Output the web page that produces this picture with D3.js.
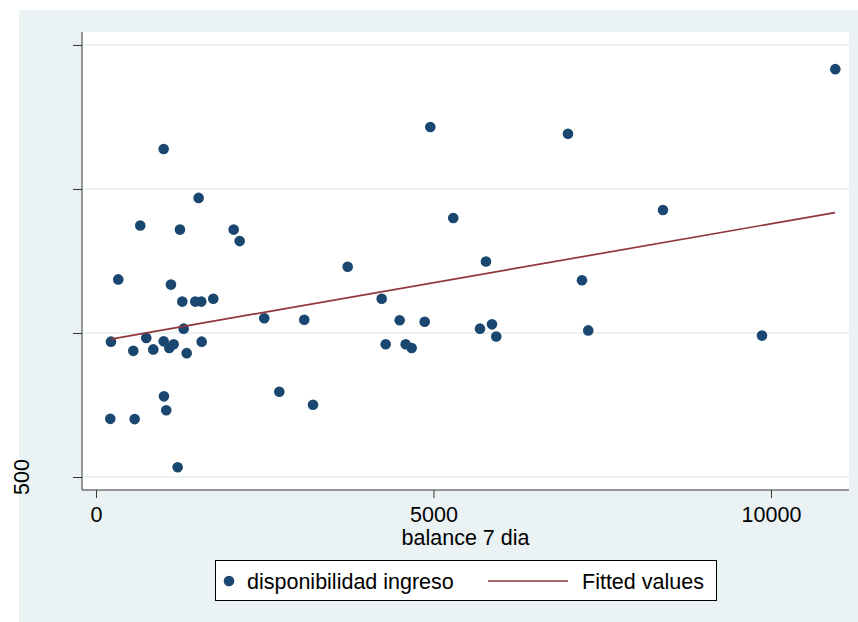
<!DOCTYPE html>
<html><head><meta charset="utf-8">
<script src="https://cdn.jsdelivr.net/npm/d3@7/dist/d3.min.js"></script>
<style>body{margin:0;background:#fff}svg{display:block}text{font-family:"Liberation Sans",Arial,sans-serif;fill:#000}</style>
</head><body>
<svg id="c" width="858" height="622"></svg>
<script>
const balance = [212,222,330,553,573,656,745,849,1003,1007,1003,1041,1086,1111,1151,1210,1244,1279,1299,1344,1471,1521,1560,1566,1738,2040,2129,2493,2716,3086,3215,3729,4233,4292,4499,4588,4677,4870,4953,5293,5689,5778,5867,5930,6993,7200,7293,8400,9867,10953];
const ingreso = [702,970,1186,938,701,1373,983,943,1639,780,971,732,948,1168,961,534,1359,1109,1015,930,1109,1469,1109,970,1119,1359,1319,1051,796,1046,751,1230,1119,961,1044,961,948,1039,1715,1399,1015,1248,1030,988,1692,1183,1009,1427,991,1916];
const fittedX = [222, 10948];
const fittedY = [979, 1418];
const xTicks = [0, 5000, 10000];
const yTicks = [500, 1000, 1500, 2000];
const yTickLabels = {500: "500"};
const legendLabels = ["disponibilidad ingreso", "Fitted values"];

const svg = d3.select("#c");
const L = 82, R = 849, T = 32, B = 490;
const bg = "#eaf2f3", dot = "#1a476f", lineCol = "#90353b", axisCol = "#333";
const x = d3.scaleLinear().domain([-207, 11156]).range([L, R]);
const y = d3.scaleLinear().domain([454.9, 2045]).range([B, T]);

svg.append("rect").attr("x", 19).attr("y", 10).attr("width", 858 - 19).attr("height", 622 - 10).attr("fill", bg);
svg.append("rect").attr("x", L).attr("y", T).attr("width", R - L).attr("height", B - T).attr("fill", "#fff");

// gridlines
svg.append("g").selectAll("line").data(yTicks).join("line")
  .attr("x1", L).attr("x2", R).attr("y1", d => y(d)).attr("y2", d => y(d))
  .attr("stroke", bg).attr("stroke-width", 2);

// axes
const fs = "21.5px";
const gy = svg.append("g").attr("transform", `translate(${L},0)`)
  .call(d3.axisLeft(y).tickValues(yTicks).tickSize(9).tickSizeOuter(0).tickFormat(""));
gy.select(".domain").attr("stroke", axisCol).attr("d", `M0,${T}V${B}`);
gy.selectAll(".tick line").attr("stroke", axisCol);
svg.append("g").selectAll("text").data(yTicks.filter(d => yTickLabels[d])).join("text")
  .attr("transform", d => `translate(29,${y(d)}) rotate(-90)`)
  .attr("text-anchor", "middle").style("font-size", fs).text(d => yTickLabels[d]);

const gx = svg.append("g").attr("transform", `translate(0,${B})`)
  .call(d3.axisBottom(x).tickValues(xTicks).tickSize(8).tickSizeOuter(0).tickFormat(d3.format("d")).tickPadding(0));
gx.select(".domain").attr("stroke", axisCol).attr("d", `M${L},0H${R}`);
gx.selectAll(".tick line").attr("stroke", axisCol);
gx.selectAll(".tick text").attr("dy", null).attr("y", 32).style("font-size", fs).style("font-family", '"Liberation Sans",Arial,sans-serif').attr("fill", "#000");

svg.append("text").attr("x", (L + R) / 2).attr("y", 545).attr("text-anchor", "middle").style("font-size", fs).text("balance 7 dia");

// points
svg.append("g").selectAll("circle").data(balance.map((b, i) => [b, ingreso[i]])).join("circle")
  .attr("cx", d => x(d[0])).attr("cy", d => y(d[1])).attr("r", 5.3).attr("fill", dot);

// fitted line
svg.append("line").attr("x1", x(fittedX[0])).attr("y1", y(fittedY[0])).attr("x2", x(fittedX[1])).attr("y2", y(fittedY[1]))
  .attr("stroke", lineCol).attr("stroke-width", 1.7);

// legend
const lg = svg.append("g");
lg.append("rect").attr("x", 215.5).attr("y", 560.5).attr("width", 501).attr("height", 40).attr("fill", "#fff").attr("stroke", "#000").attr("stroke-width", 1);
lg.append("circle").attr("cx", 229).attr("cy", 581).attr("r", 5.3).attr("fill", dot);
lg.append("text").attr("x", 247).attr("y", 589).style("font-size", fs).text(legendLabels[0]);
lg.append("line").attr("x1", 488).attr("x2", 568).attr("y1", 581).attr("y2", 581).attr("stroke", lineCol).attr("stroke-width", 1.7);
lg.append("text").attr("x", 582).attr("y", 589).style("font-size", fs).text(legendLabels[1]);
</script>
</body></html>
